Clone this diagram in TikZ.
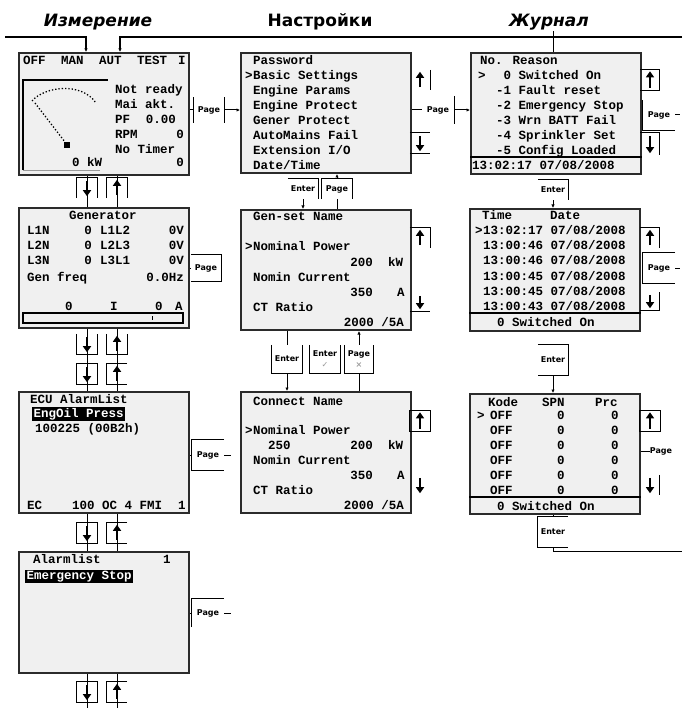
\documentclass[tikz,border=0pt]{standalone}
\usepackage{fontspec}
\setmainfont{DejaVu Sans}
\newfontfamily\lcdfont{Liberation Mono}
\usetikzlibrary{positioning, arrows.meta, calc}
\definecolor{LcdBack}{HTML}{F0F0F0}
\definecolor{LcdFrame}{HTML}{2B2B2B}
\definecolor{KeyGray}{HTML}{9A9A9A}

\begin{document}
\begin{tikzpicture}[x=1pt, y=-1pt,
    screen/.style={draw=LcdFrame, line width=2pt, fill=LcdBack, anchor=north west, minimum width=170pt, minimum height=121pt, inner sep=0pt},
    lcd/.style={font=\lcdfont\bfseries\fontsize{12.5}{15}\selectfont, inner sep=0pt, anchor=base west},
    lcdr/.style={lcd, anchor=base east},
    hilite/.style={lcd, fill=black, text=white, inner xsep=1.5pt, inner ysep=1pt},
    hdr/.style={font=\bfseries\fontsize{17}{20}\selectfont, anchor=base},
    hdri/.style={font=\bfseries\itshape\fontsize{17}{20}\selectfont, anchor=base},
    keyfr/.style={line width=0.9pt},
    keynode/.style={inner sep=0pt, minimum width=20pt, minimum height=20pt},
    keylbl/.style={inner sep=0pt, align=center, font=\bfseries\fontsize{8}{11}\selectfont},
    keyarr/.style={line width=2.2pt, -{Triangle[length=6pt, width=8pt]}, shorten <=3pt, shorten >=2pt},
    wire/.style={line width=1pt},
    tip/.style={wire, -{Latex[length=3.5pt, width=3.5pt]}}
]
\useasboundingbox (0,0) rectangle (682,708);

% headers
\node[hdri] (hmeas) at (98,27) {Измерение};
\node[hdr] (hsett) at (320,27) {Настройки};
\node[hdri] (hlog) at (549,27) {Журнал};

% screens
\node[screen, minimum height=122pt] (meas1) at (18,52) {};
\node[screen, minimum height=120pt] (meas2) at (18,207) {};
\node[screen] (meas3) at (18,391) {};
\node[screen] (meas4) at (18,551) {};
\node[screen, minimum height=120pt] (sett1) at (240,52) {};
\node[screen, minimum height=120pt] (sett2) at (240,209) {};
\node[screen] (sett3) at (240,391) {};
\node[screen] (log1) at (470,52) {};
\node[screen, minimum height=122pt] (log2) at (469,208) {};
\node[screen, minimum height=120pt] (log3) at (469,393) {};

% header line
\coordinate (hdrL) at (5,37);
\coordinate (hdrR) at (682,37);
\coordinate (in1) at (86,37);
\coordinate (in2) at (120,37);
\coordinate (in3) at (553,31);
\draw[tip, line width=1.2pt] (hdrL) -- (in1) -- (meas1.north -| in1);
\draw[tip, line width=1.2pt] (hdrR) -- (in2) -- (meas1.north -| in2);
\draw[wire] (in3) -- (log1.north -| in3);

% main screen
\foreach \t/\px in {OFF/23, MAN/61, AUT/99, TEST/137, I/178}
    \node[lcd] (mode\t) at (\px,65) {\t};
\node[lcd] (m1st1) at (115,94) {Not ready};
\node[lcd] (m1st2) at (115,109) {Mai akt.};
\node[lcd] (m1pf) at (115,124) {PF};
\node[lcdr] (m1pfv) at (176,124) {0.00};
\node[lcd] (m1rpm) at (115,139) {RPM};
\node[lcdr] (m1rpmv) at (184,139) {0};
\node[lcd] (m1tmr) at (115,154) {No Timer};
\node[lcd] (m1kw) at (72,167) {0 kW};
\node[lcdr] (m1kwv) at (184,167) {0};
\draw[line width=1.6pt] (23,170) -- (23,80) -- (108,80);
\draw[KeyGray, line width=0.6pt] (23,170) -- (100,170);
\draw[line width=1.3pt, dotted] (32,101) .. controls (45,86) and (82,82) .. (96,103);
\draw[line width=1.3pt, dotted] (35,103) -- (65,142);
\fill (64,142) rectangle (70,148);

% generator screen
\node[lcd, anchor=base] (m2title) at (103,220) {Generator};
\foreach \ph/\ll/\yy in {L1N/L1L2/235, L2N/L2L3/250, L3N/L3L1/265} {
    \node[lcd] (m2a\ph) at (27,\yy) {\ph};
    \node[lcdr] (m2b\ph) at (92,\yy) {0};
    \node[lcd] (m2c\ph) at (100,\yy) {\ll};
    \node[lcdr] (m2d\ph) at (184,\yy) {0V};
}
\node[lcd] (m2fq) at (27,281) {Gen freq};
\node[lcdr] (m2fqv) at (184,281) {0.0Hz};
\node[lcd] (m2s1) at (65,310) {0};
\node[lcd] (m2s2) at (110,310) {I};
\node[lcd] (m2s3) at (155,310) {0};
\node[lcd] (m2s4) at (175,310) {A};
\draw[line width=1.3pt] (23,313) rectangle (183,323);
\draw[line width=1pt] (152,316) -- (152,320);

% alarm screens
\node[lcd] (m3title) at (30,403) {ECU AlarmList};
\node[hilite] (m3sel) at (32,417) {EngOil Press};
\node[lcd] (m3code) at (35,432) {100225 (00B2h)};
\node[lcd] (m3ec) at (27,509) {EC};
\node[lcd] (m3oc) at (72,509) {100 OC 4 FMI};
\node[lcd] (m3n) at (178,509) {1};
\node[lcd] (m4title) at (33,563) {Alarmlist};
\node[lcd] (m4n) at (163,563) {1};
\node[hilite] (m4sel) at (25,579) {Emergency Stop};

% settings menu
\node[lcd] (menucur) at (245,80) {>};
\foreach \t [count=\i] in {Password, Basic Settings, Engine Params, Engine Protect, Gener Protect, AutoMains Fail, {Extension I/O}, {Date/Time}}
    \node[lcd] (menu\i) at (253,50+15*\i) {\t};

% settings screens
\node[lcd] (s2title) at (253,221) {Gen-set Name};
\node[lcd] (s2cur) at (245,251) {>};
\node[lcd] (s2p) at (253,251) {Nominal Power};
\node[lcdr] (s2pv) at (373,266) {200};
\node[lcd] (s2pu) at (388,266) {kW};
\node[lcd] (s2c) at (253,281) {Nomin Current};
\node[lcdr] (s2cv) at (373,296) {350};
\node[lcd] (s2cu) at (397,296) {A};
\node[lcd] (s2r) at (253,311) {CT Ratio};
\node[lcdr] (s2rv) at (404,326) {2000 /5A};

\node[lcd] (s3title) at (253,405) {Connect Name};
\node[lcd] (s3cur) at (245,434) {>};
\node[lcd] (s3p) at (253,434) {Nominal Power};
\node[lcd] (s3pe) at (268,449) {250};
\node[lcdr] (s3pv) at (373,449) {200};
\node[lcd] (s3pu) at (388,449) {kW};
\node[lcd] (s3c) at (253,464) {Nomin Current};
\node[lcdr] (s3cv) at (373,479) {350};
\node[lcd] (s3cu) at (397,479) {A};
\node[lcd] (s3r) at (253,494) {CT Ratio};
\node[lcdr] (s3rv) at (404,509) {2000 /5A};

% history log
\node[lcd] (l1head) at (480,65) {No. Reason};
\node[lcd] (l1cur) at (478,80) {>};
\node[lcd] (l1r0) at (503.5,80) {0 Switched On};
\foreach \t [count=\i] in {Fault reset, Emergency Stop, Wrn BATT Fail, Sprinkler Set, Config Loaded}
    \node[lcd] (l1r\i) at (496,80+15*\i) {-\i\ \t};
\draw[line width=1.3pt] ($(log1.north west)+(0,105)$) -- ($(log1.north east)+(0,105)$);
\node[lcd] (l1foot) at (472,170) {13:02:17 07/08/2008};

\node[lcd] (l2time) at (482,220) {Time};
\node[lcd] (l2date) at (550,220) {Date};
\node[lcd] (l2cur) at (475,235) {>};
\foreach \t [count=\i] in {13:02:17, 13:00:46, 13:00:46, 13:00:45, 13:00:45, 13:00:43}
    \node[lcd] (l2r\i) at (483,220+15*\i) {\t\ 07/08/2008};
\draw[line width=1.3pt] ($(log2.north west)+(0,105)$) -- ($(log2.north east)+(0,105)$);
\node[lcd] (l2foot) at (497,326) {0 Switched On};

\node[lcd] (l3code) at (488,406) {Kode};
\node[lcd] (l3spn) at (542,406) {SPN};
\node[lcd] (l3prc) at (595,406) {Prc};
\node[lcd] (l3cur) at (477,419) {>};
\foreach \i in {1,...,6} {
    \node[lcd] (l3a\i) at (490,404+15*\i) {OFF};
    \node[lcd] (l3b\i) at (557,404+15*\i) {0};
    \node[lcd] (l3c\i) at (611,404+15*\i) {0};
}
\draw[line width=1.3pt] ($(log3.north west)+(0,104)$) -- ($(log3.north east)+(0,104)$);
\node[lcd] (l3foot) at (497,510) {0 Switched On};

% arrow keys between measurement screens
\foreach \k/\ky in {1/188, 2/344, 3/374, 4/533, 5/692} {
    \node[keynode] (kd\k) at (87,\ky) {};
    \node[keynode] (ku\k) at (117,\ky) {};
}
\coordinate (endd) at (87,708);
\coordinate (endu) at (117,708);
\foreach \a/\b in {meas1/meas2, meas2/meas3, meas3/meas4} {
    \draw[wire] (\a.south -| kd1) -- (\b.north -| kd1);
    \draw[wire] (\a.south -| ku1) -- (\b.north -| ku1);
}
\draw[wire] (meas4.south -| kd1) -- (endd);
\draw[wire] (meas4.south -| ku1) -- (endu);
\foreach \k in {1,...,5} {
    \draw[keyarr] (kd\k.north) -- (kd\k.south);
    \draw[keyarr] (ku\k.south) -- (ku\k.north);
}
\draw[keyfr] (kd1.south west) |- (kd1.north east) -- (kd1.south east);
\draw[keyfr] (ku1.south west) |- (ku1.north east) -- (ku1.south east);
\draw[keyfr] (kd2.north west) |- (kd2.south east) -- (kd2.north east);
\draw[keyfr] (ku2.north west) |- (ku2.south east) -- (ku2.north east);
\foreach \k in {3,4,5} {
    \draw[keyfr] (kd\k.south west) rectangle (kd\k.north east);
    \draw[keyfr] (ku\k.north east) -| (ku\k.south west) -- (ku\k.south east);
}

% page keys, measurement
\node[keylbl, minimum width=31pt, minimum height=25pt] (pg1) at (209,110) {Page};
\draw[keyfr] (pg1.north west) -- (pg1.south west) (pg1.north east) -- (pg1.south east);
\draw[wire] (meas1.east |- pg1) -- (pg1.west);
\draw[tip] (pg1.east) -- (sett1.west |- pg1);

\node[keylbl, minimum width=30pt, minimum height=26pt] (pg2) at (206,268) {Page};
\draw[keyfr] (pg2.north west) -| (pg2.south east) -- (pg2.south west);
\draw[wire] (meas2.east |- pg2) -- (pg2.west);

\node[keylbl, minimum width=32pt, minimum height=30pt] (pg3) at (208,455) {Page};
\coordinate (pg3out) at (231,455);
\draw[keyfr] (pg3.north east) -| (pg3.south west) -- (pg3.south east);
\draw[wire] (meas3.east |- pg3) -- (pg3.west);
\draw[wire] (pg3.east) -- (pg3out);

\node[keylbl, minimum width=32pt, minimum height=28pt] (pg4) at (208,613) {Page};
\coordinate (pg4out) at (231,613);
\draw[keyfr] (pg4.south west) |- (pg4.north east);
\draw[wire] (meas4.east |- pg4) -- (pg4.west);
\draw[wire] (pg4.east) -- (pg4out);

% keys, settings
\node[keynode] (su1) at (420,80) {};
\draw[keyfr] (su1.north east) -- (su1.south east);
\draw[keyarr] (su1.south) -- (su1.north);
\node[keylbl, minimum width=32pt, minimum height=28pt] (pgA) at (438,110) {Page};
\draw[keyfr] (pgA.north east) -- (pgA.south east);
\draw[wire] (sett1.east |- pgA) -- (pgA.west);
\draw[tip] (pgA.east) -- (log1.west |- pgA);
\node[keynode] (sd1) at (420,143) {};
\draw[keyfr] (sd1.north west) -- (sd1.north east) (sd1.south west) -- (sd1.south east);
\draw[keyarr] (sd1.north) -- (sd1.south);

\node[keylbl, minimum width=30pt, minimum height=20pt] (enA) at (303,189) {Enter};
\draw[keyfr] (enA.north west) -| (enA.south east);
\draw[tip] (enA.south) -- (sett2.north -| enA);
\node[keylbl, minimum width=30pt, minimum height=20pt] (pgB) at (337,189) {Page};
\draw[keyfr] (pgB.south west) |- (pgB.north east) -- (pgB.south east);
\draw[wire] (sett2.north -| pgB) -- (pgB.south);
\draw[tip] (pgB.north) -- (sett1.south -| pgB);

\node[keynode] (su2) at (420,238) {};
\draw[keyfr] (su2.north west) -| (su2.south east);
\draw[keyarr] (su2.south) -- (su2.north);
\node[keynode, minimum height=18pt] (sd2) at (420,302) {};
\draw[keyfr] (sd2.south west) -- (sd2.south east);
\draw[keyarr] (sd2.north) -- (sd2.south);

\node[keylbl, minimum width=30pt, minimum height=28pt] (enB) at (287,359) {Enter};
\node[keylbl, minimum width=30pt, minimum height=28pt] (enC) at (325,359) {Enter\\{\color{KeyGray}✓}};
\node[keylbl, minimum width=28pt, minimum height=28pt] (pgC) at (359,359) {Page\\{\color{KeyGray}×}};
\foreach \k in {enB, enC, pgC}
    \draw[keyfr] (\k.north west) |- (\k.south east) -- (\k.north east);
\draw[wire] (sett2.south -| enB) -- (enB.north);
\draw[tip] (enB.south) -- (sett3.north -| enB);
\draw[wire] (sett3.north -| pgC) -- (pgC.south);
\draw[tip] (pgC.north) -- (sett2.south -| pgC);

\node[keynode, minimum height=21pt] (su3) at (420,421) {};
\draw[keyfr] (su3.south west) rectangle (su3.north east);
\draw[keyarr] (su3.south) -- (su3.north);
\node[keynode] (sd3) at (420,485) {};
\draw[keyarr] (sd3.north) -- (sd3.south);

% keys, log
\node[keynode, minimum width=19pt, minimum height=21pt] (lu1) at (650,80) {};
\draw[keyfr] (lu1.north west) -| (lu1.south east) -- (lu1.south west);
\draw[keyarr] (lu1.south) -- (lu1.north);
\node[keylbl, minimum width=32pt, minimum height=30pt] (lpg1) at (659,115) {Page};
\coordinate (lpg1out) at (680,115);
\draw[keyfr] (lpg1.north west) |- (lpg1.south east);
\draw[wire] (lpg1.east) -- (lpg1out);
\node[keynode, minimum width=19pt, minimum height=22pt] (ld1) at (650,144) {};
\draw[keyfr] (ld1.north west) -| (ld1.south east);
\draw[keyarr] (ld1.north) -- (ld1.south);
\node[keylbl, minimum width=30pt, minimum height=20pt] (enL1) at (553,190) {Enter};
\draw[keyfr] (enL1.north west) -| (enL1.south east);
\draw[tip] (enL1.south) -- (log2.north -| enL1);

\node[keynode, minimum width=19pt] (lu2) at (650,238) {};
\draw[keyfr] (lu2.north west) -| (lu2.south east);
\draw[keyarr] (lu2.south) -- (lu2.north);
\node[keylbl, minimum width=32pt, minimum height=30pt] (lpg2) at (659,268) {Page};
\coordinate (lpg2out) at (680,268);
\draw[keyfr] (lpg2.north east) -| (lpg2.south west) -- (lpg2.south east);
\draw[wire] (lpg2.east) -- (lpg2out);
\node[keynode, minimum width=19pt, minimum height=18pt] (ld2) at (650,301) {};
\draw[keyfr] (ld2.south west) -| (ld2.north east);
\draw[keyarr] (ld2.north) -- (ld2.south);
\node[keylbl, minimum width=30pt, minimum height=30pt] (enL2) at (553,360) {Enter};
\draw[keyfr] (enL2.north west) -| (enL2.south east) -- (enL2.south west);
\draw[tip] (enL2.south) -- (log3.north -| enL2);

\node[keynode, minimum height=21pt] (lu3) at (650,421) {};
\draw[keyfr] (lu3.south west) rectangle (lu3.north east);
\draw[keyarr] (lu3.south) -- (lu3.north);
\node[keylbl] (lpg3) at (661,451) {Page};
\draw[wire] (log3.east |- lpg3) -- (lpg3.west);
\node[keynode, minimum width=19pt] (ld3) at (650,485) {};
\draw[keyfr] (ld3.north east) -- (ld3.south east);
\draw[keyarr] (ld3.north) -- (ld3.south);
\node[keylbl, minimum width=30pt, minimum height=30pt] (enL3) at (553,532) {Enter};
\coordinate (exitE) at (682,551);
\draw[keyfr] (enL3.north east) -| (enL3.south west) -- (enL3.south east);
\draw[wire] (log3.south -| enL3) -- (enL3.north);
\draw[wire] (enL3.south) |- (exitE);

\end{tikzpicture}
\end{document}
